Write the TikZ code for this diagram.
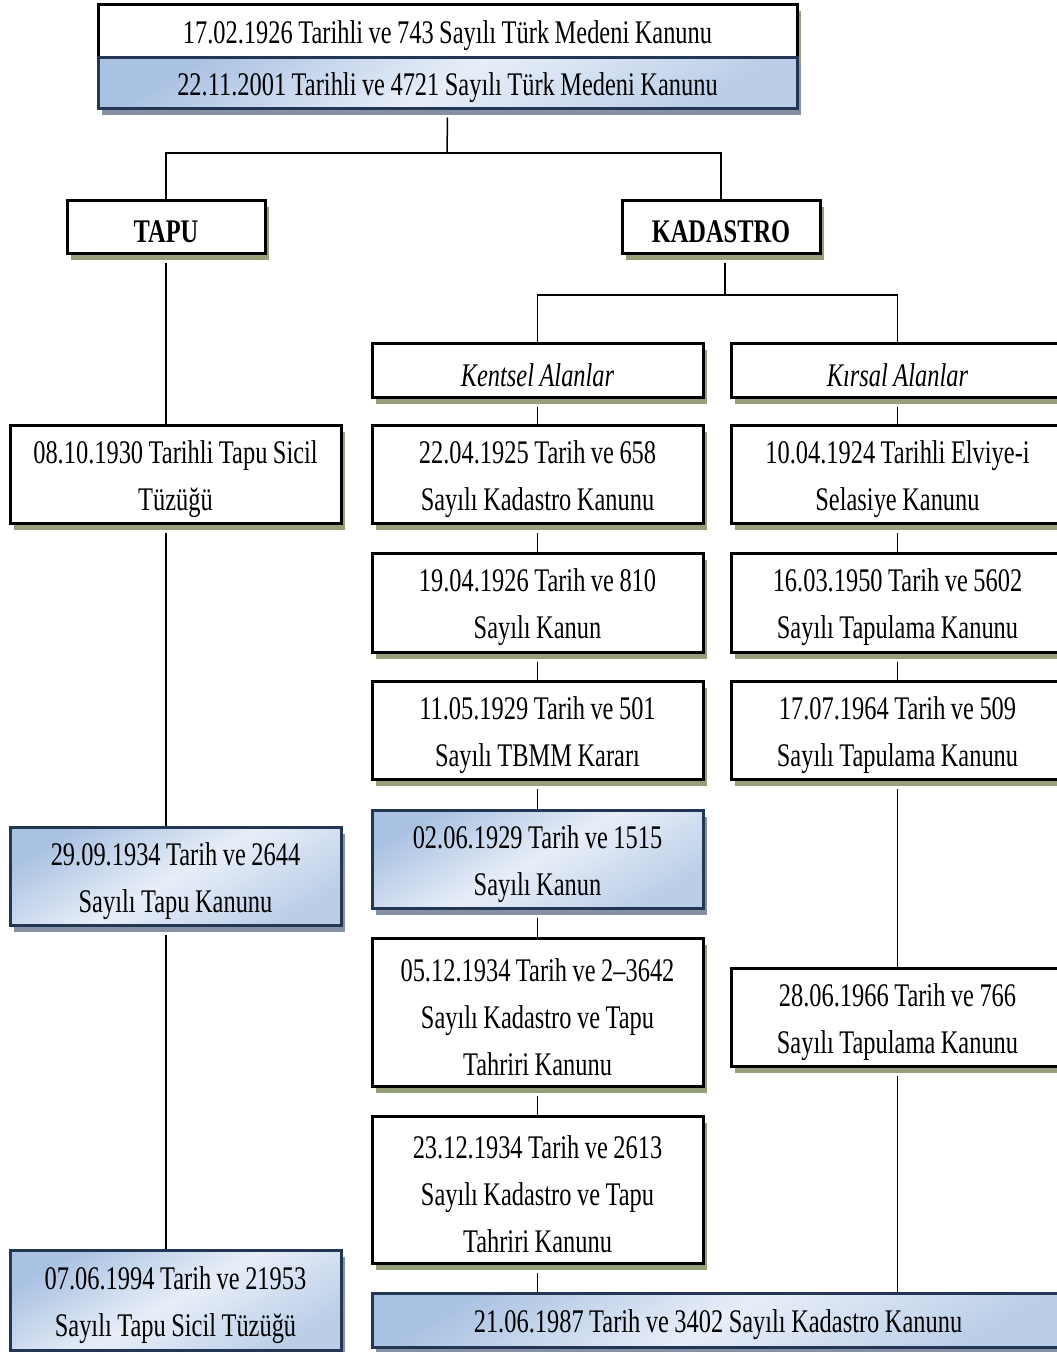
\documentclass[tikz,border=0pt]{standalone}
\usepackage{fontspec}
\setmainfont{Liberation Serif}[FakeStretch=0.74, WordSpace=0.9]
\usetikzlibrary{shadows}
\definecolor{shgreen}{RGB}{150,160,120}
\definecolor{shblue}{RGB}{135,145,165}
\definecolor{bborder}{RGB}{35,55,85}
\definecolor{bdark}{RGB}{170,194,226}
\definecolor{blight}{RGB}{232,238,248}
\tikzset{
  x=1pt, y=-1pt,
  base/.style={rectangle, inner sep=0pt, line width=3pt},
  wbox/.style={base, draw=black, fill=white,
    drop shadow={shadow xshift=4pt, shadow yshift=-7pt, fill=shgreen, opacity=1}},
  bbox/.style={base, draw=bborder,
    top color=bdark, bottom color=bdark!80!white, middle color=blight, shading angle=30,
    drop shadow={shadow xshift=4pt, shadow yshift=-7pt, fill=shblue, opacity=1}},
  txt/.style={inner sep=0pt, align=center, font=\fontsize{33}{47}\selectfont},
  conn/.style={line width=1.5pt, draw=black},
}
\newcommand{\bx}[7]{% style, name, x1, y1, x2, y2, text
  \node[#1, minimum width={#5-#3}, minimum height={#6-#4}]
    (#2) at ({(#3+#5)/2},{(#4+#6)/2}) {};
  \node[txt] at ([yshift=-5pt]#2.center) {#7};}
\begin{document}
\begin{tikzpicture}
\clip (0,0) rectangle (1057,1352);
\fill[white] (0,0) rectangle (1057,1352);

\coordinate (j1) at (447,153);
\coordinate (j2) at (725,295);

% top
\bx{wbox}{top1}{98}{4}{797}{57}{17.02.1926 Tarihli ve 743 Sayılı Türk Medeni Kanunu}
\bx{bbox}{top2}{98}{57}{797}{108}{22.11.2001 Tarihli ve 4721 Sayılı Türk Medeni Kanunu}

\bx{wbox}{tapu}{67}{200}{265}{253}{\bfseries TAPU}
\bx{wbox}{kad}{622}{200}{820}{253}{\bfseries KADASTRO}

\bx{wbox}{kent}{372}{343}{703}{397}{\itshape Kentsel Alanlar}
\bx{wbox}{kirs}{731}{343}{1064}{397}{\itshape Kırsal Alanlar}

% Tapu column
\bx{wbox}{t1}{10}{425}{341}{523}{08.10.1930 Tarihli Tapu Sicil\\Tüzüğü}
\bx{bbox}{t2}{10}{827}{341}{925}{29.09.1934 Tarih ve 2644\\Sayılı Tapu Kanunu}
\bx{bbox}{t3}{10}{1250}{341}{1350}{07.06.1994 Tarih ve 21953\\Sayılı Tapu Sicil Tüzüğü}

% Kentsel column
\bx{wbox}{k1}{372}{425}{703}{523}{22.04.1925 Tarih ve 658\\Sayılı Kadastro Kanunu}
\bx{wbox}{k2}{372}{553}{703}{652}{19.04.1926 Tarih ve 810\\Sayılı Kanun}
\bx{wbox}{k3}{372}{681}{703}{779}{11.05.1929 Tarih ve 501\\Sayılı TBMM Kararı}
\bx{bbox}{k4}{372}{810}{703}{908}{02.06.1929 Tarih ve 1515\\Sayılı Kanun}
\bx{wbox}{k5}{372}{938}{703}{1086}{05.12.1934 Tarih ve 2–3642\\Sayılı Kadastro ve Tapu\\Tahriri Kanunu}
\bx{wbox}{k6}{372}{1116}{703}{1263}{23.12.1934 Tarih ve 2613\\Sayılı Kadastro ve Tapu\\Tahriri Kanunu}

% Kirsal column
\bx{wbox}{r1}{731}{425}{1064}{523}{10.04.1924 Tarihli Elviye-i\\Selasiye Kanunu}
\bx{wbox}{r2}{731}{553}{1064}{652}{16.03.1950 Tarih ve 5602\\Sayılı Tapulama Kanunu}
\bx{wbox}{r3}{731}{681}{1064}{779}{17.07.1964 Tarih ve 509\\Sayılı Tapulama Kanunu}
\bx{wbox}{r4}{731}{968}{1064}{1066}{28.06.1966 Tarih ve 766\\Sayılı Tapulama Kanunu}

% bottom wide
\bx{bbox}{bot}{372}{1293}{1064}{1347}{21.06.1987 Tarih ve 3402 Sayılı Kadastro Kanunu}

% connectors
\draw[conn] (top2.south) ++(0,8) -- (j1);
\draw[conn] (tapu.north) -- (tapu.north |- j1) -- (kad.north |- j1) -- (kad.north);
\draw[conn] (kad.south -| j2) ++(0,8) -- (j2);
\draw[conn] (kent.north) -- (kent.north |- j2) -- (kirs.north |- j2) -- (kirs.north);

\draw[conn] (tapu.south) ++(0,8) -- (tapu.south |- t1.north);
\draw[conn] (tapu.south |- t1.south) ++(0,8) -- (tapu.south |- t2.north);
\draw[conn] (tapu.south |- t2.south) ++(0,8) -- (tapu.south |- t3.north);

\draw[conn] (kent.south) ++(0,8) -- (k1.north);
\draw[conn] (k1.south) ++(0,8) -- (k2.north);
\draw[conn] (k2.south) ++(0,8) -- (k3.north);
\draw[conn] (k3.south) ++(0,8) -- (k4.north);
\draw[conn] (k4.south) ++(0,8) -- (k5.north);
\draw[conn] (k5.south) ++(0,8) -- (k6.north);
\draw[conn] (k6.south) ++(0,8) -- (k6.south |- bot.north);

\draw[conn] (kirs.south) ++(0,8) -- (r1.north);
\draw[conn] (r1.south) ++(0,8) -- (r2.north);
\draw[conn] (r2.south) ++(0,8) -- (r3.north);
\draw[conn] (r3.south) ++(0,8) -- (r4.north);
\draw[conn] (r4.south) ++(0,8) -- (r4.south |- bot.north);
\end{tikzpicture}
\end{document}
